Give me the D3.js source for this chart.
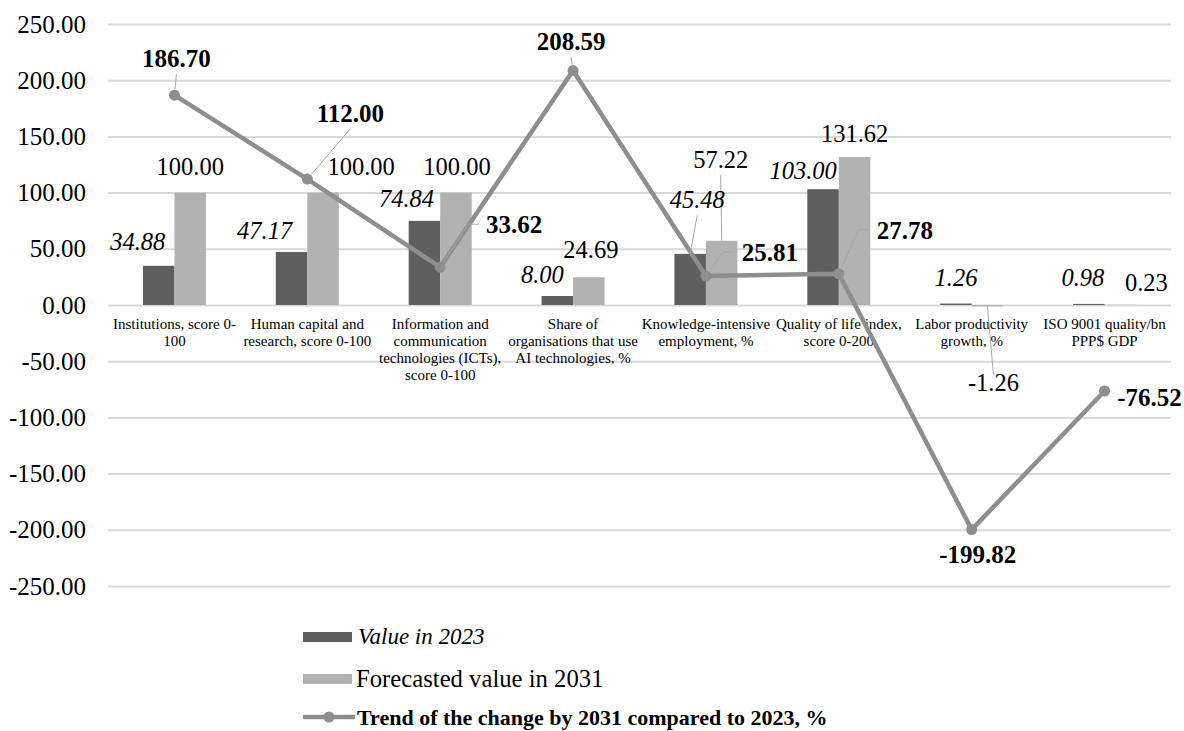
<!DOCTYPE html>
<html><head><meta charset="utf-8">
<script src="https://cdn.jsdelivr.net/npm/d3@7"></script>
<style>body{margin:0;background:#fff}svg{display:block}text{font-family:"Liberation Serif","Times New Roman",serif;fill:#000}</style>
</head><body><svg id="c" width="1184" height="731" font-family="Liberation Serif"></svg>
<script>
const categories = ["Institutions, score 0-\n100","Human capital and\nresearch, score 0-100","Information and\ncommunication\ntechnologies (ICTs),\nscore 0-100","Share of\norganisations that use\nAI technologies, %","Knowledge-intensive\nemployment, %","Quality of life index,\nscore 0-200","Labor productivity\ngrowth, %","ISO 9001 quality/bn\nPPP$ GDP"];
const value2023 = [34.88, 47.17, 74.84, 8.00, 45.48, 103.00, 1.26, 0.98];
const value2031 = [100.00, 100.00, 100.00, 24.69, 57.22, 131.62, -1.26, 0.23];
const trend = [186.70, 112.00, 33.62, 208.59, 25.81, 27.78, -199.82, -76.52];
const yTicks = [-250, -200, -150, -100, -50, 0, 50, 100, 150, 200, 250];
const seriesNames = ["Value in 2023", "Forecasted value in 2031", "Trend of the change by 2031 compared to 2023, %"];

// label placement (layout, not data)
const off2023 = [[-21,-24],[-27,-22],[-18,-22],[-15,-22],[7,-54],[-20,-19],[0,-26],[-6,-26]];
const off2031 = [[0,-26],[38,-26],[1,-26],[2,-28],[-1,-81],[0,-24],[6,76],[26,-22]];
const offTrend = [[2,-37],[43,-66],[74,-43],[-2,-29],[64,-24],[66,-44],[6,25],[45,6]];
const lead2023 = [null,null,null,null,"v",null,null,null];
const lead2031 = [null,null,null,null,"v",null,"v",null];
const leadTrend = ["v","v","elbow","v","elbow","elbow",null,null];

const C = {dark:"#5f5f5f", light:"#b2b2b2", line:"#8e8e8e", grid:"#d9d9d9", leader:"#a6a6a6"};
const svg = d3.select("#c");
svg.append("rect").attr("width",1184).attr("height",731).attr("fill","#fff");

const y = d3.scaleLinear().domain([-250,250]).range([586,24]);
const x = d3.scaleBand().domain(categories).range([108,1171]).padding(0);
const xs = d3.scaleBand().domain([0,1]).range([-31.5,31.5]);
const fmt = v => (v<0?"-":"") + d3.format(".2f")(Math.abs(v));

// grid + y axis
const ya = svg.append("g").attr("transform","translate(108,0)")
  .call(d3.axisLeft(y).tickValues(yTicks).tickSize(-1063).tickFormat(fmt).tickPadding(22));
ya.attr("font-family","Liberation Serif");
ya.select(".domain").remove();
ya.selectAll(".tick line").attr("stroke",C.grid).attr("stroke-width",2);
ya.selectAll(".tick text").attr("font-size",25).attr("fill","#000");

// category labels
const xa = svg.append("g");
categories.forEach((c,i)=>{
  const cxp = x(c)+x.bandwidth()/2;
  const t = xa.append("text").attr("text-anchor","middle").attr("font-size",15)
    .attr("x", cxp).attr("y", 329);
  c.split("\n").forEach((l,k)=> t.append("tspan").attr("x", cxp).attr("dy", k===0?0:17).text(l));
});

// bars
const series = [value2023, value2031];
const g = svg.append("g");
series.forEach((vals,si)=>{
  g.selectAll(null).data(vals).enter().append("rect")
    .attr("x",(d,i)=> x(categories[i]) + x.bandwidth()/2 + xs(si))
    .attr("width", xs.bandwidth())
    .attr("y", d=> y(Math.max(0,d)))
    .attr("height", d=> Math.abs(y(d)-y(0)))
    .attr("fill", si===0?C.dark:C.light);
});

const cx = i => x(categories[i]) + x.bandwidth()/2;

// trend line
const lineG = svg.append("g");
lineG.append("path").datum(trend).attr("d", d3.line().x((d,i)=>cx(i)).y(d=>y(d)))
  .attr("fill","none").attr("stroke",C.line).attr("stroke-width",4.5).attr("stroke-linejoin","round");
lineG.selectAll("circle").data(trend).enter().append("circle")
  .attr("cx",(d,i)=>cx(i)).attr("cy",d=>y(d)).attr("r",5.5).attr("fill",C.line);

const leaders = svg.append("g");
const labels = svg.append("g");

function addLabel(px, py, off, text, style, lead, r){
  const t = labels.append("text").attr("x", px+off[0]).attr("y", py+off[1]).attr("dy","0.35em")
    .attr("text-anchor","middle").attr("font-size", style==="b"?25:24.5).text(text);
  if(style==="i") t.attr("font-style","italic");
  if(style==="b") t.attr("font-weight","bold");
  if(!lead) return;
  const bb = t.node().getBBox();
  let pts;
  if(lead==="v"){
    const above = off[1] < 0;
    const sx = px+off[0], sy = above ? bb.y+bb.height+2 : bb.y+6;
    const dx = px-sx, dy = py-sy, L = Math.hypot(dx,dy);
    pts = [[sx,sy],[px - dx/L*r, py - dy/L*r]];
  } else {
    const cy = py+off[1];
    const x1 = bb.x-7, x2 = bb.x-18;
    const dx = px-x2, dy = py-cy, L = Math.hypot(dx,dy);
    pts = [[x1,cy],[x2,cy],[px - dx/L*r, py - dy/L*r]];
  }
  leaders.append("path").attr("d", d3.line()(pts)).attr("fill","none").attr("stroke",C.leader).attr("stroke-width",1);
}

value2023.forEach((v,i)=> addLabel(cx(i)+xs(0)+xs.bandwidth()/2, y(v), off2023[i], fmt(v), "i", lead2023[i], 0));
value2031.forEach((v,i)=> addLabel(cx(i)+xs(1)+xs.bandwidth()/2, y(v), off2031[i], fmt(v), "n", lead2031[i], 0));
trend.forEach((v,i)=> addLabel(cx(i), y(v), offTrend[i], fmt(v), "b", leadTrend[i], 6));

// legend
const lg = svg.append("g");
lg.append("rect").attr("x",303).attr("y",632).attr("width",49).attr("height",10).attr("fill",C.dark);
lg.append("text").attr("x",358).attr("y",636).attr("dy","0.35em").attr("font-size",23).attr("font-style","italic").text(seriesNames[0]);
lg.append("rect").attr("x",303).attr("y",674).attr("width",49).attr("height",10).attr("fill",C.light);
lg.append("text").attr("x",356).attr("y",678).attr("dy","0.35em").attr("font-size",24.7).text(seriesNames[1]);
lg.append("line").attr("x1",303).attr("x2",355).attr("y1",717).attr("y2",717).attr("stroke",C.line).attr("stroke-width",4.5);
lg.append("circle").attr("cx",329).attr("cy",717).attr("r",5.5).attr("fill",C.line);
lg.append("text").attr("x",357).attr("y",717).attr("dy","0.35em").attr("font-size",22).attr("font-weight","bold").text(seriesNames[2]);
</script></body></html>
